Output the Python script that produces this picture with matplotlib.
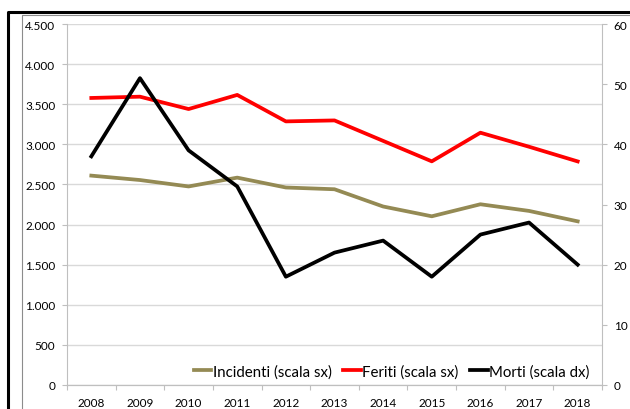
import matplotlib
matplotlib.use("Agg")
import matplotlib.pyplot as plt
from matplotlib.lines import Line2D
from matplotlib.ticker import FuncFormatter, MultipleLocator

plt.rcParams['font.family'] = ['Lato', 'DejaVu Sans']

anni = [2008, 2009, 2010, 2011, 2012, 2013, 2014, 2015, 2016, 2017, 2018]
incidenti = [2610, 2555, 2475, 2585, 2462, 2440, 2225, 2103, 2253, 2170, 2040]
feriti = [3578, 3594, 3440, 3616, 3286, 3298, 3043, 2788, 3145, 2970, 2787]
morti = [38, 51, 39, 33, 18, 22, 24, 18, 25, 27, 20]

GRID = '#d9d9d9'
AXIS = '#bfbfbf'


def punto_migliaia(v, pos):
    return f"{int(v):,}".replace(",", ".")


fig = plt.figure(figsize=(6.3, 4.1), dpi=100)
ax = fig.add_axes([67 / 630, 24 / 410, 535 / 630, 361 / 410])
ax2 = ax.twinx()

x = list(range(len(anni)))
l1, = ax.plot(x, incidenti, color='#948a54', lw=2.7, label='Incidenti (scala sx)')
l2, = ax.plot(x, feriti, color='#ff0000', lw=2.7, label='Feriti (scala sx)')
l3, = ax2.plot(x, morti, color='black', lw=2.7, label='Morti (scala dx)')

ax.set_xlim(-0.5, len(anni) - 0.5)
ax.set_ylim(0, 4500)
ax.yaxis.set_major_locator(MultipleLocator(500))
ax.yaxis.set_major_formatter(FuncFormatter(punto_migliaia))
ax2.set_ylim(0, 60)
ax2.yaxis.set_major_locator(MultipleLocator(10))

ax.set_xticks(x)
ax.set_xticklabels([str(a) for a in anni])
ax.set_xticks([i + 0.5 for i in range(-1, len(anni))], minor=True)
ax.tick_params(axis='x', which='major', length=0, pad=9, labelsize=8.5)
ax.tick_params(axis='x', which='minor', length=3.5, color=AXIS, width=0.8)
ax.tick_params(axis='y', length=3.5, color=AXIS, width=0.8, pad=5, labelsize=8.5)
ax2.tick_params(axis='y', length=3.5, color=AXIS, width=0.8, pad=5, labelsize=8.5)

ax.grid(axis='y', color=GRID, lw=1.0)
ax.set_axisbelow(True)
for a in (ax, ax2):
    for s in a.spines.values():
        s.set_visible(False)
    a.spines['bottom'].set_visible(True)
    a.spines['bottom'].set_color(AXIS)
ax.spines['left'].set_visible(True)
ax.spines['left'].set_color(AXIS)
ax2.spines['right'].set_visible(True)
ax2.spines['right'].set_color(AXIS)

ax2.legend([l1, l2, l3], [l1.get_label(), l2.get_label(), l3.get_label()],
           loc='lower center', bbox_to_anchor=(0.607, -0.02), ncol=3, frameon=False,
           fontsize=10.8, handlelength=1.15, handletextpad=0.1, columnspacing=0.8)

# cornici dell'immagine originale
fig.add_artist(Line2D([22 / 630, 22 / 630, 1], [0, 1 - 16 / 410, 1 - 16 / 410],
                      transform=fig.transFigure, color='#8c8c8c', lw=0.8))
fig.add_artist(Line2D([8 / 630, 8 / 630, 1], [0, 1 - 13 / 410, 1 - 13 / 410],
                      transform=fig.transFigure, color='black', lw=2.2))

fig.savefig('out.png', dpi=100)
